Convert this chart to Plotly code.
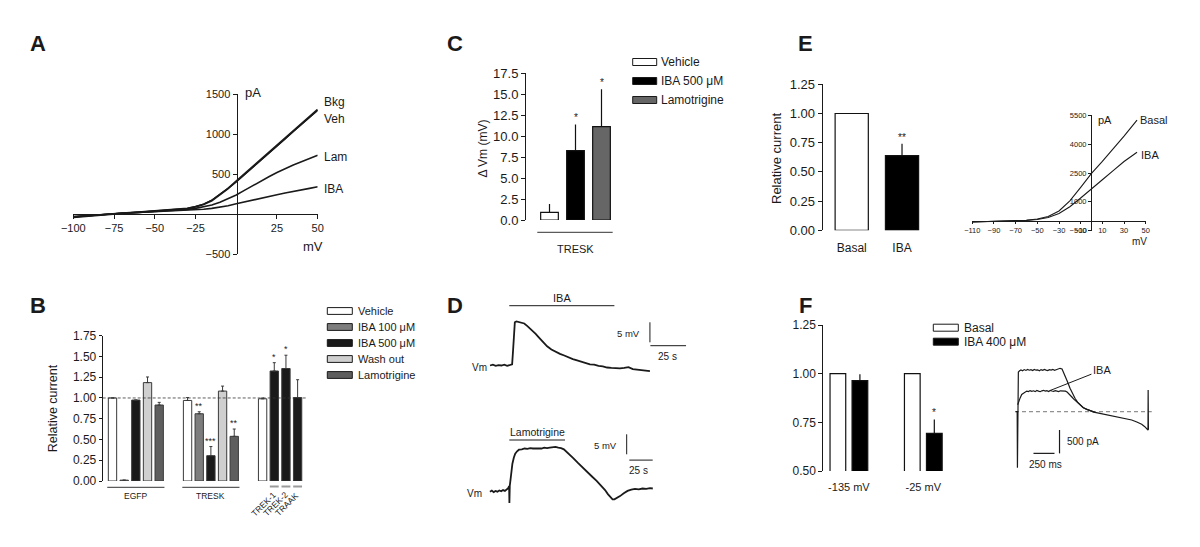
import plotly.graph_objects as go

W, H = 1200, 547
PAGE_MARGIN = 8  # the browser's default body margin shifts the figure by this many pixels
FONT = "Liberation Sans, Arial, Helvetica, sans-serif"
INK = "#1a1a1a"


def fx(px):
    return (px - PAGE_MARGIN) / W


def fy(py):
    return 1 - (py - PAGE_MARGIN) / H


# ======================= DATA =======================
# Panel A: whole-cell I-V curves (mV, pA)
a_mv = [-100, -90, -80, -70, -60, -50, -40, -30, -25, -20, -15, -10, -5, 0, 5, 10, 15, 20, 25, 30, 35, 40, 45, 50]
a_bkg = [-40, -22, -5, 10, 22, 35, 48, 68, 90, 120, 168, 238, 318, 410, 500, 590, 680, 768, 858, 948, 1038, 1128, 1218, 1305]
a_veh = [-38, -20, -4, 11, 23, 36, 50, 70, 92, 124, 172, 242, 322, 400, 488, 578, 668, 758, 846, 938, 1030, 1120, 1212, 1295]
a_lam = [-35, -18, -3, 10, 20, 30, 42, 58, 70, 88, 112, 148, 190, 238, 295, 355, 412, 465, 518, 568, 612, 652, 695, 735]
a_iba = [-32, -16, -2, 9, 18, 28, 36, 45, 52, 60, 70, 84, 104, 128, 152, 176, 198, 220, 240, 262, 284, 303, 320, 340]
a_names = ["Bkg", "Veh", "Lam", "IBA"]
a_xticks = [-100, -75, -50, -25, 25, 50]
a_yticks = [-500, 500, 1000, 1500]

# Panel B: relative current
b_groups = ["EGFP", "TRESK"]
b_channels = ["TREK-1", "TREK-2", "TRAAK"]
b_conditions = ["Vehicle", "IBA 100 \u03bcM", "IBA 500 \u03bcM", "Wash out", "Lamotrigine"]
b_vehicle = [1.00, 0.97, 0.99]
b_vehicle_err = [0.0, 0.035, 0.01]
b_vehicle_sig = ["", "", ""]
b_iba100 = [0.01, 0.81]
b_iba100_err = [0.0, 0.024]
b_iba100_sig = ["", "**"]
b_iba500 = [0.975, 0.305, 1.325, 1.355, 1.005]
b_iba500_err = [0.0, 0.11, 0.10, 0.16, 0.215]
b_iba500_sig = ["", "***", "*", "*", ""]
b_wash = [1.185, 1.083]
b_wash_err = [0.068, 0.06]
b_wash_sig = ["", ""]
b_lam = [0.915, 0.538]
b_lam_err = [0.032, 0.088]
b_lam_sig = ["", "**"]

# Panel C: depolarisation
c_labels = ["Vehicle", "IBA 500 \u03bcM", "Lamotrigine"]
c_values = [0.91, 8.27, 11.14]
c_err = [0.99, 3.13, 4.46]
c_sig = ["", "*", "*"]

# Panel D: voltage traces (s, mV relative)
d_iba_t = [0, 2, 4, 6, 8, 10, 12, 14, 15.5, 16.2, 16.8, 17.4, 18.5, 20, 22, 24, 26, 28, 30, 32, 34, 36, 38, 40,
           43, 46, 49, 52, 55, 58, 61, 64, 67, 70, 73, 76, 79, 82, 85, 88, 91, 94, 97, 100, 103, 106, 109, 112]
d_iba_v = [0.0, 0.2, -0.1, 0.1, 0.0, 0.2, -0.1, 0.1, 0.3, 4.0, 8.5, 10.8, 11.0, 10.9, 10.8, 10.5, 9.9, 9.3, 8.6,
           7.9, 7.1, 6.3, 5.5, 4.8, 4.0, 3.4, 2.9, 2.5, 2.0, 1.6, 1.3, 1.0, 0.7, 0.3, 0.2, -0.1, -0.2, -0.5, -0.6,
           -0.7, -0.7, -0.6, -0.4, -0.9, -1.0, -1.1, -1.2, -1.4]
d_iba_app = [13.5, 87.1]
d_lam_t = [1, 3, 5, 7, 9, 11, 13, 15, 17, 19, 20.5, 21.5, 21.8, 22.2, 23, 24, 25, 26.5, 28, 30, 32, 35, 38, 41,
           44, 47, 50, 53, 56, 59, 62, 65, 68, 71, 74, 77, 80, 83, 86, 90, 95, 100, 105, 110, 115, 120, 124,
           127, 130, 132, 134, 137, 140, 144, 148, 152, 156, 160, 164, 168, 172, 175]
d_lam_v = [0.0, 0.3, -0.1, 0.2, 0.0, 0.3, 0.1, 0.4, 0.2, 0.6, 0.9, 1.4, -2.8, 1.5, 3.0, 5.5, 7.0, 8.5, 9.5, 10.1,
           10.5, 10.6, 10.8, 10.7, 10.9, 10.8, 10.8, 10.9, 10.8, 11.0, 10.9, 11.0, 11.1, 11.2, 11.0, 10.9, 10.6,
           10.0, 9.3, 8.4, 7.2, 6.0, 4.9, 3.8, 2.7, 1.5, 0.4, -0.6, -1.5, -1.9, -1.9, -1.6, -1.1, -0.4, 0.2, 0.5,
           0.7, 0.6, 0.8, 0.7, 0.9, 0.8]
d_lam_app = [21.7, 81.2]

# Panel E: bars and I-V
e_labels = ["Basal", "IBA"]
e_values = [1.00, 0.64]
e_err = [0.0, 0.10]
e_sig = ["", "**"]
e_mv = [-110, -100, -90, -80, -70, -60, -50, -40, -30, -20, -10, 0, 10, 20, 30, 42]
e_basal = [-55, -40, -25, -10, 10, 40, 100, 230, 520, 1050, 1750, 2480, 3100, 3750, 4420, 5250]
e_iba = [-50, -38, -25, -10, 5, 30, 80, 180, 390, 740, 1200, 1700, 2150, 2620, 3100, 3580]
e_xticks = [-110, -90, -70, -50, -30, -10, 10, 30, 50]
e_yticks = [-500, 1000, 2500, 4000, 5500]

# Panel F: bars and current traces
f_labels = ["-135 mV", "-25 mV"]
f_basal = [1.00, 1.00]
f_iba = [0.964, 0.693]
f_iba_err = [0.033, 0.072]
f_iba_sig = ["", "*"]
f_basal_t = [8, 26, 29, 32, 40, 55, 71, 90, 110, 130, 150, 170, 190, 210, 230, 250, 270, 290, 310, 330, 350,
             370, 390, 410, 430, 450, 470, 490, 510, 536, 560, 595, 625, 655, 685, 714, 745, 774, 810, 854,
             900, 952, 1010, 1071, 1150, 1230, 1310, 1389, 1450, 1508, 1545, 1568, 1580, 1583, 1585, 1588]
f_basal_i = [0, 0, -1200, 750, 850, 875, 893, 878, 902, 884, 906, 888, 899, 880, 904, 889, 897, 878, 901, 886,
             906, 891, 882, 901, 892, 907, 885, 899, 912, 929, 915, 786, 640, 501, 380, 287, 205, 143, 90, 51,
             18, -13, -35, -56, -82, -107, -140, -178, -220, -270, -320, -370, -390, -395, 465, -385]
f_iba_t = [32, 45, 60, 80, 100, 120, 140, 160, 180, 200, 220, 240, 260, 280, 300, 320, 340, 360, 380, 400, 420,
           440, 460, 480, 500, 520, 540, 560, 580, 600, 620, 640, 655, 680, 700, 735, 770, 813, 850, 893, 950]
f_iba_i = [150, 240, 290, 370, 400, 425, 441, 430, 452, 436, 448, 430, 455, 440, 428, 447, 458, 440, 450, 432,
           455, 444, 437, 452, 441, 430, 448, 445, 440, 440, 420, 390, 358, 310, 270, 214, 150, 86, 55, 30, -13]

# ======================= STYLE / LAYOUT HELPERS =======================
fig = go.Figure()
shapes, anns = [], []

AXV = dict(showline=True, linecolor=INK, linewidth=1, ticks="outside", ticklen=4, tickwidth=1,
           tickcolor=INK, showticklabels=True, showgrid=False, zeroline=False, fixedrange=True,
           automargin=False)
AXH = dict(showline=False, ticks="", showticklabels=False, showgrid=False, zeroline=False, fixedrange=True,
           automargin=False)


def xdom(p0, p1):
    return [fx(p0), fx(p1)]


def ydom(pb, pt):
    return [fy(pb), fy(pt)]


def txt(text, x, y, size, xanchor="center", yanchor="middle", xref="paper", yref="paper", **kw):
    if xref == "paper":
        x = fx(x)
    if yref == "paper":
        y = fy(y)
    d = dict(text=text, x=x, y=y, xref=xref, yref=yref, xanchor=xanchor, yanchor=yanchor,
             showarrow=False, font=dict(size=size, color=INK, family=FONT))
    d.update(kw)
    anns.append(d)


def legend_block(bx0, bx1, rows, items, tx, size, half=3.4):
    for yrow, (label, color) in zip(rows, items):
        shapes.append(dict(type="rect", xref="paper", yref="paper", x0=fx(bx0), x1=fx(bx1),
                           y0=fy(yrow + half), y1=fy(yrow - half), fillcolor=color,
                           line=dict(color=INK, width=1)))
        txt(label, tx, yrow, size, xanchor="left")


def stars(xs, vals, errs, sigs, xref, yref, size):
    for x, v, e, s in zip(xs, vals, errs, sigs):
        if s:
            anns.append(dict(text=s, x=x, y=v + e, xref=xref, yref=yref, xanchor="center",
                             yanchor="bottom", showarrow=False, yshift=-1,
                             font=dict(size=size, color=INK, family=FONT)))


# panel letters
for letter, (px, py) in {"A": (38, 44), "B": (38, 305), "C": (455, 44),
                         "D": (455, 305), "E": (805, 44), "F": (805, 305)}.items():
    txt("<b>%s</b>" % letter, px, py, 22)

# ======================= PANEL A =======================
for name, ys, w in zip(a_names, [a_bkg, a_veh, a_lam, a_iba], [2.0, 1.4, 1.6, 1.6]):
    fig.add_trace(go.Scatter(x=a_mv, y=ys, mode="lines", line=dict(color=INK, width=w),
                             xaxis="x", yaxis="y", hoverinfo="skip"))
A_Y0 = 214  # pixel row of 0 pA
A_X0 = 236.5  # pixel col of 0 mV
xa = dict(AXV, domain=xdom(73.3, 317.7), range=[-100, 50], anchor="free", position=fy(A_Y0),
          tickvals=a_xticks, tickfont=dict(size=11, color=INK))
ya = dict(AXV, domain=ydom(254, 94), range=[-500, 1500], anchor="free", position=fx(A_X0),
          tickvals=a_yticks, tickfont=dict(size=11, color=INK))
for name, py in zip(a_names, [101.7, 119.3, 157.3, 188.7]):
    txt(name, 321.5, py, 12, xanchor="left")
txt("pA", 242.5, 92.5, 13, xanchor="left")
txt("mV", 312.7, 246.7, 13)

# ======================= PANEL B =======================
b_group_start = [0.0, 6.43, 12.86]
g0, g1, g2 = b_group_start
b_vehicle_x = [g0, g1, g2]
b_iba100_x = [g0 + 1, g1 + 1]
b_iba500_x = [g0 + 2, g1 + 2, g2 + 1, g2 + 2, g2 + 3]
b_wash_x = [g0 + 3, g1 + 3]
b_lam_x = [g0 + 4, g1 + 4]
b_colors = ["#ffffff", "#7d7d7d", "#1a1a1a", "#cfcfcf", "#5e5e5e"]
b_series = [
    (b_vehicle_x, b_vehicle, b_vehicle_err, b_vehicle_sig),
    (b_iba100_x, b_iba100, b_iba100_err, b_iba100_sig),
    (b_iba500_x, b_iba500, b_iba500_err, b_iba500_sig),
    (b_wash_x, b_wash, b_wash_err, b_wash_sig),
    (b_lam_x, b_lam, b_lam_err, b_lam_sig),
]
for (xs, vals, errs, sigs), col in zip(b_series, b_colors):
    fig.add_trace(go.Bar(x=xs, y=vals, width=0.714, marker=dict(color=col, line=dict(color="#3a3a3a", width=1)),
                         error_y=dict(type="data", array=errs, arrayminus=[0] * len(errs), symmetric=False,
                                      width=1.5, thickness=1, color="#3a3a3a"),
                         xaxis="x2", yaxis="y2", hoverinfo="skip"))
    stars(xs, vals, errs, sigs, "x2", "y2", 9)
xb = dict(AXH, domain=xdom(102.7, 307.3), range=[-0.84, 16.69], anchor="y2")
yb = dict(AXV, domain=ydom(481, 335.7), range=[0, 1.75], anchor="x2", ticklen=3,
          tickvals=[0, 0.25, 0.5, 0.75, 1.0, 1.25, 1.5, 1.75], tickformat=".2f",
          tickfont=dict(size=12, color=INK))
shapes.append(dict(type="line", xref="x2 domain", yref="y2", x0=0, x1=1, y0=1.0, y1=1.0,
                   line=dict(color="#333", width=0.8, dash="3px,2px")))
for gs, gname in zip(b_group_start[:2], b_groups):
    shapes.append(dict(type="line", xref="x2", yref="paper", x0=gs - 0.45, x1=gs + 4.45,
                       y0=fy(487.3), y1=fy(487.3), line=dict(color="#333", width=1)))
    txt(gname, gs + 2, 495.5, 8.5, xref="x2")
for xc, ch in zip(b_iba500_x[2:], b_channels):
    shapes.append(dict(type="line", xref="x2", yref="paper", x0=xc - 0.38, x1=xc + 0.38,
                       y0=fy(486.5), y1=fy(486.5), line=dict(color="#9a9a9a", width=2)))
    txt(ch, xc - 0.92, 503.5, 8.5, xref="x2", textangle=-45)
txt("Relative current", 53, 408.3, 12.5, textangle=-90)
legend_block(327.3, 352.3, [311, 327, 343, 359, 375], list(zip(b_conditions, b_colors)), 355.7, 11)

# ======================= PANEL C =======================
c_colors = ["#ffffff", "#000000", "#666666"]
c_x = list(range(len(c_values)))
fig.add_trace(go.Bar(x=c_x, y=c_values, width=0.68, marker=dict(color=c_colors, line=dict(color="#111", width=1.2)),
                     error_y=dict(type="data", array=c_err, arrayminus=[0] * len(c_err), symmetric=False,
                                  width=0, thickness=1.2, color="#111"),
                     xaxis="x3", yaxis="y3", hoverinfo="skip"))
stars(c_x, c_values, c_err, c_sig, "x3", "y3", 10)
xc_ax = dict(AXH, domain=xdom(526, 614.5), range=[-0.904, 2.5], anchor="y3")
yc_ax = dict(AXV, domain=ydom(220, 73.3), range=[0, 17.5], anchor="x3",
             tickvals=[0, 2.5, 5, 7.5, 10, 12.5, 15, 17.5], tickformat=".1f",
             tickfont=dict(size=13, color=INK))
shapes.append(dict(type="line", xref="x3", yref="paper", x0=c_x[0] - 0.47, x1=c_x[-1] + 0.43,
                   y0=fy(232.3), y1=fy(232.3), line=dict(color="#333", width=1)))
txt("TRESK", c_x[1], 249, 11, xref="x3")
txt("\u0394 Vm (mV)", 483.3, 148.3, 12, textangle=-90)
legend_block(632.7, 656.7, [62, 81, 100], list(zip(c_labels, c_colors)), 659, 12, half=3.5)

# ======================= PANEL D =======================
fig.add_trace(go.Scatter(x=d_iba_t, y=d_iba_v, mode="lines", line=dict(color=INK, width=1.8),
                         xaxis="x4", yaxis="y4", hoverinfo="skip"))
fig.add_trace(go.Scatter(x=d_lam_t, y=d_lam_v, mode="lines", line=dict(color=INK, width=1.8),
                         xaxis="x5", yaxis="y5", hoverinfo="skip"))
xd1 = dict(AXH, domain=xdom(480, 700), range=[-7.0, 147.06], anchor="y4", visible=False)
yd1 = dict(AXH, domain=ydom(380, 300), range=[-3.625, 16.375], anchor="x4", visible=False)
xd2 = dict(AXH, domain=xdom(480, 700), range=[-9.615, 225.43], anchor="y5", visible=False)
yd2 = dict(AXH, domain=ydom(510, 425), range=[-4.575, 16.675], anchor="x5", visible=False)
# application bars
shapes.append(dict(type="line", xref="x4", yref="paper", x0=d_iba_app[0], x1=d_iba_app[1],
                   y0=fy(305.7), y1=fy(305.7), line=dict(color=INK, width=1)))
txt("IBA", (d_iba_app[0] + d_iba_app[1]) / 2, 297.5, 11, xref="x4")
shapes.append(dict(type="line", xref="x5", yref="paper", x0=d_lam_app[0], x1=d_lam_app[1],
                   y0=fy(440), y1=fy(440), line=dict(color=INK, width=1)))
txt("Lamotrigine", (d_lam_app[0] + d_lam_app[1]) / 2, 431.5, 10.5, xref="x5")
# scale bars (5 mV, 25 s)
sb_mv, sb_s = 5, 25
shapes.append(dict(type="line", xref="x4", yref="y4", x0=112, x1=112, y0=5.8, y1=5.8 + sb_mv,
                   line=dict(color=INK, width=1)))
shapes.append(dict(type="line", xref="x4", yref="y4", x0=112.3, x1=112.3 + sb_s, y0=4.95, y1=4.95,
                   line=dict(color=INK, width=1)))
shapes.append(dict(type="line", xref="x5", yref="y5", x0=147.1, x1=147.1, y0=9.35, y1=9.35 + sb_mv,
                   line=dict(color=INK, width=1)))
shapes.append(dict(type="line", xref="x5", yref="y5", x0=149.9, x1=149.9 + sb_s, y0=7.9, y1=7.9,
                   line=dict(color=INK, width=1)))
txt("%d mV" % sb_mv, 628.3, 333.3, 9.5)
txt("%d s" % sb_s, 667.3, 356, 10)
txt("%d mV" % sb_mv, 605, 445, 9.5)
txt("%d s" % sb_s, 638.3, 470, 10)
txt("Vm", 488.5, 367.5, 10, xanchor="right")
txt("Vm", 484, 493.3, 10, xanchor="right")

# ======================= PANEL E =======================
e_colors = ["#ffffff", "#000000"]
e_x = list(range(len(e_values)))
fig.add_trace(go.Bar(x=e_x, y=e_values, width=0.66, marker=dict(color=e_colors, line=dict(color="#111", width=1.2)),
                     error_y=dict(type="data", array=e_err, arrayminus=[0] * len(e_err), symmetric=False,
                                  width=0, thickness=1.2, color="#111"),
                     xaxis="x6", yaxis="y6", hoverinfo="skip"))
stars(e_x, e_values, e_err, e_sig, "x6", "y6", 10)
xe = dict(AXH, domain=xdom(822.7, 932.2), range=[-0.577, 1.6], anchor="y6", showticklabels=True,
          ticks="outside", ticklen=6, tickcolor="rgba(0,0,0,0)", tickvals=e_x, ticktext=e_labels,
          tickfont=dict(size=12, color=INK))
ye = dict(AXV, domain=ydom(230.3, 84.3), range=[0, 1.25], anchor="x6",
          tickvals=[0, 0.25, 0.5, 0.75, 1.0, 1.25], tickformat=".2f", tickfont=dict(size=13, color=INK))
txt("Relative current", 776.7, 158.3, 13, textangle=-90)
# inset I-V
for ys in [e_basal, e_iba]:
    fig.add_trace(go.Scatter(x=e_mv, y=ys, mode="lines", line=dict(color=INK, width=1.1),
                             xaxis="x7", yaxis="y7", hoverinfo="skip"))
xe2 = dict(AXV, domain=xdom(972.3, 1145.7), range=[-110, 50], anchor="free", position=fy(221),
           ticklen=2, tickvals=e_xticks, tickfont=dict(size=7.5, color=INK))
ye2 = dict(AXV, domain=ydom(230.6, 115.4), range=[-500, 5500], anchor="free", position=fx(1091),
           ticklen=3, tickvals=e_yticks, tickfont=dict(size=7.5, color=INK))
txt("pA", 1095.5, 119.5, 11, xanchor="left")
txt("Basal", 1137.5, 120, 11, xanchor="left")
txt("IBA", 1139, 154.5, 11, xanchor="left")
txt("mV", 1139.3, 241.7, 10)

# ======================= PANEL F =======================
f_x = list(range(len(f_basal)))
fig.add_trace(go.Bar(x=f_x, y=f_basal, width=0.211, offset=-0.2535,
                     marker=dict(color="#ffffff", line=dict(color="#111", width=1.2)),
                     xaxis="x8", yaxis="y8", hoverinfo="skip"))
fig.add_trace(go.Bar(x=f_x, y=f_iba, width=0.211, offset=0.0425,
                     marker=dict(color="#000000", line=dict(color="#111", width=1.2)),
                     error_y=dict(type="data", array=f_iba_err, arrayminus=[0] * len(f_iba_err),
                                  symmetric=False, width=0, thickness=1.2, color="#111"),
                     xaxis="x8", yaxis="y8", hoverinfo="skip"))
stars([x + 0.148 for x in f_x], f_iba, f_iba_err, f_iba_sig, "x8", "y8", 10)
xf = dict(AXH, domain=xdom(823.3, 960.5), range=[-0.344, 1.5], anchor="y8", showticklabels=True,
          ticks="outside", ticklen=6, tickcolor="rgba(0,0,0,0)", tickvals=f_x, ticktext=f_labels,
          tickfont=dict(size=11, color=INK))
yf = dict(AXV, domain=ydom(471, 325), range=[0.5, 1.25], anchor="x8",
          tickvals=[0.5, 0.75, 1.0, 1.25], tickformat=".2f", tickfont=dict(size=12, color=INK))
legend_block(933.3, 958.3, [327.7, 341.7], [("Basal", "#ffffff"), ("IBA 400 \u03bcM", "#000000")], 962, 12,
             half=3.5)
# current traces
fig.add_trace(go.Scatter(x=[0, f_basal_t[-1] + 40], y=[0, 0], mode="lines",
                         line=dict(color="#777", width=1, dash="4px,3px"),
                         xaxis="x9", yaxis="y9", hoverinfo="skip"))
fig.add_trace(go.Scatter(x=f_basal_t, y=f_basal_i, mode="lines", line=dict(color=INK, width=1.2),
                         xaxis="x9", yaxis="y9", hoverinfo="skip"))
fig.add_trace(go.Scatter(x=f_iba_t, y=f_iba_i, mode="lines", line=dict(color=INK, width=1.2),
                         xaxis="x9", yaxis="y9", hoverinfo="skip"))
xf2 = dict(AXH, domain=xdom(1005, 1160), range=[-119, 1726], anchor="y9", visible=False)
yf2 = dict(AXH, domain=ydom(475, 360), range=[-1355, 1107], anchor="x9", visible=False)
sb_pa, sb_ms = 500, 250
shapes.append(dict(type="line", xref="x9", yref="y9", x0=530, x1=530, y0=-392, y1=-392 - sb_pa,
                   line=dict(color=INK, width=1.2)))
shapes.append(dict(type="line", xref="x9", yref="y9", x0=220, x1=220 + sb_ms, y0=-892, y1=-892,
                   line=dict(color=INK, width=1.2)))
txt("%d pA" % sb_pa, 1083.3, 441.7, 10)
txt("%d ms" % sb_ms, 1045.7, 464.3, 10)
k = min(range(len(f_iba_t)), key=lambda i: abs(f_iba_t[i] - 420))
anns.append(dict(text="IBA", x=f_iba_t[k], y=f_iba_i[k], xref="x9", yref="y9", ax=1035, ay=893,
                 axref="x9", ayref="y9", showarrow=True, arrowhead=0, arrowwidth=1, arrowcolor=INK,
                 standoff=0, font=dict(size=11, color=INK, family=FONT)))

# ======================= LAYOUT =======================
fig.update_layout(
    template="none",
    width=W, height=H, margin=dict(l=0, r=0, t=0, b=0, pad=0, autoexpand=False), autosize=False,
    paper_bgcolor="white", plot_bgcolor="white", showlegend=False, barmode="overlay",
    font=dict(family=FONT, color=INK),
    xaxis=xa, yaxis=ya, xaxis2=xb, yaxis2=yb, xaxis3=xc_ax, yaxis3=yc_ax,
    xaxis4=xd1, yaxis4=yd1, xaxis5=xd2, yaxis5=yd2, xaxis6=xe, yaxis6=ye,
    xaxis7=xe2, yaxis7=ye2, xaxis8=xf, yaxis8=yf, xaxis9=xf2, yaxis9=yf2,
    shapes=shapes, annotations=anns,
)
fig.write_html("out.html")
